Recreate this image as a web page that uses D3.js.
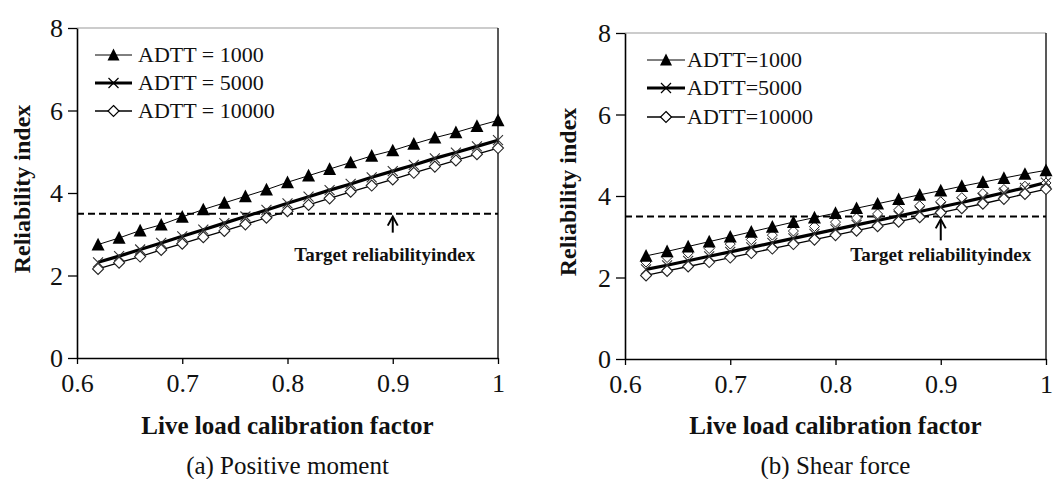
<!DOCTYPE html>
<html><head><meta charset="utf-8">
<script src="https://cdn.jsdelivr.net/npm/d3@7"></script>
<style>
body{margin:0;background:#fff;}
svg text{font-family:"Liberation Serif","Times New Roman",Times,"DejaVu Serif",serif !important;fill:#111;}
svg .tick text{font-size:26px !important;}
</style></head>
<body><svg id="c" width="1057" height="479"></svg>
<script>
// ---- data ----
const factors = [0.62,0.64,0.66,0.68,0.70,0.72,0.74,0.76,0.78,0.80,0.82,0.84,0.86,0.88,0.90,0.92,0.94,0.96,0.98,1.00];
const xTicks = [0.6,0.7,0.8,0.9,1.0];
const yTicks = [0,2,4,6,8];
const target = 3.5;
const seriesNames = ["1000","5000","10000"];

const moment1000  = [2.75,2.91,3.09,3.23,3.42,3.60,3.76,3.92,4.08,4.26,4.42,4.58,4.74,4.90,5.03,5.19,5.34,5.47,5.62,5.76];
const moment5000  = [2.32,2.47,2.63,2.79,2.95,3.11,3.27,3.43,3.59,3.75,3.91,4.07,4.22,4.38,4.53,4.68,4.84,4.98,5.13,5.28];
const moment10000 = [2.16,2.31,2.46,2.62,2.77,2.93,3.08,3.24,3.40,3.56,3.71,3.87,4.03,4.18,4.33,4.49,4.64,4.79,4.94,5.09];

const shear1000  = [2.53,2.64,2.76,2.88,3.00,3.12,3.24,3.36,3.47,3.58,3.70,3.81,3.92,4.03,4.13,4.24,4.34,4.44,4.54,4.63];
const shear5000  = [2.20,2.30,2.41,2.52,2.63,2.74,2.85,2.96,3.07,3.18,3.29,3.40,3.51,3.62,3.73,3.84,3.96,4.08,4.20,4.33];
const shear10000 = [2.05,2.16,2.27,2.38,2.49,2.60,2.71,2.82,2.93,3.04,3.15,3.26,3.37,3.48,3.59,3.70,3.81,3.93,4.05,4.17];
const shearExtraMarkers = [2.38,2.49,2.60,2.71,2.82,2.93,3.04,3.14,3.25,3.36,3.46,3.56,3.66,3.76,3.86,3.96,4.06,4.16,4.24,4.32];

const FONT = "'Liberation Serif','Times New Roman',Times,serif";
const svg = d3.select("#c");

function triPath(s){const h=s*0.9;return `M0,${-h/2-1}L${s/2},${h/2}L${-s/2},${h/2}Z`;}
function diaPath(s){const r=s/2;return `M0,${-r}L${r},0L0,${r}L${-r},0Z`;}
function xPath(s){const r=s/2;return `M${-r},${-r}L${r},${r}M${-r},${r}L${r},${-r}`;}

function panel(cfg){
  const g = svg.append("g").attr("font-family",FONT);
  const x = d3.scaleLinear().domain([0.6,1.0]).range([cfg.x0,cfg.x1]);
  const y = d3.scaleLinear().domain([0,8]).range([cfg.y1,cfg.y0]);

  g.append("line").attr("x1",cfg.x0).attr("x2",cfg.x1).attr("y1",cfg.y0).attr("y2",cfg.y0)
    .attr("stroke","#999").attr("stroke-width",1.2);
  g.append("line").attr("x1",cfg.x1).attr("x2",cfg.x1).attr("y1",cfg.y0).attr("y2",cfg.y1)
    .attr("stroke","#222").attr("stroke-width",1.5);

  const fmt = d => d===1 ? "1" : d3.format(".1f")(d);
  const xa = g.append("g").attr("transform",`translate(0,${cfg.y1})`)
    .call(d3.axisBottom(x).tickValues(xTicks).tickFormat(fmt).tickSize(6).tickSizeOuter(0).tickPadding(7));
  const ya = g.append("g").attr("transform",`translate(${cfg.x0},0)`)
    .call(d3.axisLeft(y).tickValues(yTicks).tickSize(9).tickSizeOuter(0).tickPadding(5));
  [xa,ya].forEach(a=>{
    a.attr("font-family",FONT).attr("font-size",26);
    a.select(".domain").attr("stroke","#000").attr("stroke-width",1.6);
    a.selectAll(".tick line").attr("stroke","#000").attr("stroke-width",1.3);
    a.selectAll("text").attr("fill","#111");
  });
  xa.selectAll("text").attr("dy","0.8em");
  ya.selectAll("text").attr("dy","0.34em");

  g.append("line").attr("x1",cfg.x0).attr("x2",cfg.x1).attr("y1",y(target)).attr("y2",y(target))
    .attr("stroke","#000").attr("stroke-width",2).attr("stroke-dasharray","7,4");
  const ax = x(0.9);
  g.append("line").attr("x1",ax).attr("x2",ax).attr("y1",y(target)+4).attr("y2",y(target)+cfg.arrowLen)
    .attr("stroke","#000").attr("stroke-width",2);
  g.append("path").attr("d",`M${ax-5},${y(target)+12}L${ax},${y(target)+3}L${ax+5},${y(target)+12}`)
    .attr("fill","none").attr("stroke","#000").attr("stroke-width",2);
  g.append("text").attr("x",ax+cfg.labelDx).attr("y",261).attr("text-anchor","middle")
    .attr("font-size",19).attr("font-weight","bold").text("Target reliabilityindex");

  const line = d3.line().x((d,i)=>x(factors[i])).y(d=>y(d));
  const s = cfg.series;
  g.append("path").datum(s[2]).attr("d",line).attr("fill","none").attr("stroke","#000").attr("stroke-width",1.3);
  g.append("path").datum(s[0]).attr("d",line).attr("fill","none").attr("stroke","#000").attr("stroke-width",1);
  g.append("path").datum(s[1]).attr("d",line).attr("fill","none").attr("stroke","#000").attr("stroke-width",3.2);

  if(cfg.extra){
    g.selectAll(".ex").data(cfg.extra).enter().append("path")
      .attr("transform",(d,i)=>`translate(${x(factors[i])},${y(d)})`)
      .attr("d",diaPath(10)).attr("fill","#fff").attr("stroke","#222").attr("stroke-width",1);
  }
  g.selectAll(".m3").data(s[2]).enter().append("path")
    .attr("transform",(d,i)=>`translate(${x(factors[i])},${y(d)})`)
    .attr("d",diaPath(11)).attr("fill","#fff").attr("stroke","#222").attr("stroke-width",1.1);
  g.selectAll(".m2").data(s[1]).enter().append("path")
    .attr("transform",(d,i)=>`translate(${x(factors[i])},${y(d)})`)
    .attr("d",xPath(10)).attr("fill","none").attr("stroke","#333").attr("stroke-width",1.1);
  g.selectAll(".m1").data(s[0]).enter().append("path")
    .attr("transform",(d,i)=>`translate(${x(factors[i])},${y(d)})`)
    .attr("d",triPath(13)).attr("fill","#000");

  const L = cfg.legend;
  const drawers = [
    (gg)=>{gg.append("path").attr("d",triPath(12)).attr("fill","#000");},
    (gg)=>{gg.append("path").attr("d",xPath(10)).attr("stroke","#000").attr("stroke-width",1.2);},
    (gg)=>{gg.append("path").attr("d",diaPath(11)).attr("fill","#fff").attr("stroke","#000").attr("stroke-width",1.2);}
  ];
  const widths=[1,3.2,1.5];
  seriesNames.forEach((n,i)=>{
    const yy = L.rows[i];
    g.append("line").attr("x1",L.lx0).attr("x2",L.lx1).attr("y1",yy).attr("y2",yy)
      .attr("stroke","#000").attr("stroke-width",widths[i]);
    const mg = g.append("g").attr("transform",`translate(${(L.lx0+L.lx1)/2},${yy})`);
    drawers[i](mg);
    g.append("text").attr("x",L.tx).attr("y",yy).attr("dy","0.34em").attr("font-size",22)
      .text(L.sep ? `ADTT = ${n}` : `ADTT=${n}`);
  });

  const cx=(cfg.x0+cfg.x1)/2;
  g.append("text").attr("x",cx).attr("y",434).attr("text-anchor","middle")
    .attr("font-size",25).attr("font-weight","bold").text("Live load calibration factor");
  g.append("text").attr("x",cx).attr("y",474).attr("text-anchor","middle")
    .attr("font-size",25).text(cfg.caption);
  g.append("text").attr("transform",`translate(${cfg.ytx},${(cfg.y0+cfg.y1)/2-4}) rotate(-90)`)
    .attr("text-anchor","middle").attr("font-size",24).attr("font-weight","bold").text("Reliability index");
}

panel({x0:77,x1:498,y0:28,y1:358,series:[moment1000,moment5000,moment10000],
  caption:"(a) Positive moment",ytx:30,arrowLen:19,labelDx:-8,
  legend:{lx0:95,lx1:132,tx:138,rows:[55,83,111],sep:true}});
panel({x0:625,x1:1046,y0:33,y1:359,series:[shear1000,shear5000,shear10000],extra:shearExtraMarkers,
  caption:"(b) Shear force",ytx:576,arrowLen:24,labelDx:0,
  legend:{lx0:647,lx1:685,tx:687,rows:[60,88,117],sep:false}});
</script></body></html>
